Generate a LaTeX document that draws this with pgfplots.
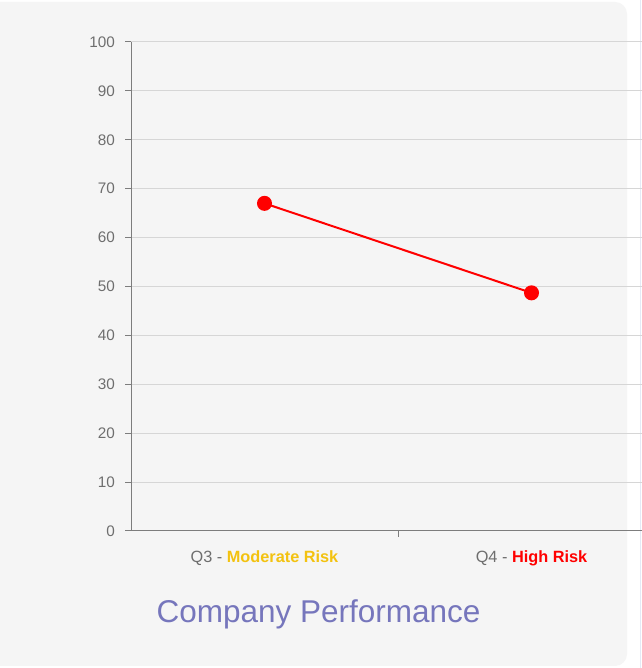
\documentclass[border=0pt]{standalone}
\usepackage{fontspec}
\setmainfont{Liberation Sans}
\usepackage{pgfplots}
\pgfplotsset{compat=1.18}
\definecolor{bg}{RGB}{245,245,245}
\definecolor{gridc}{RGB}{214,214,214}
\definecolor{axc}{RGB}{125,125,125}
\definecolor{tickc}{RGB}{110,110,110}
\definecolor{gold}{RGB}{243,194,16}
\definecolor{riskred}{RGB}{255,0,0}
\definecolor{titlec}{RGB}{118,118,188}
\definecolor{edgeblue}{RGB}{228,234,246}
\begin{document}
\begin{tikzpicture}[x=1pt,y=1pt]
\useasboundingbox (0,0) rectangle (641,668);
\fill[white] (0,0) rectangle (641,668);
\fill[bg, rounded corners=12pt] (-40,2) rectangle (627,666);
\draw[edgeblue, line width=1pt] (640,0) -- (640,668);
\begin{axis}[
  at={(131pt,137pt)}, anchor=south west,
  scale only axis, width=534pt, height=489pt,
  xmin=-0.5, xmax=1.5, ymin=0, ymax=100,
  axis lines=left,
  axis line style={-, draw=axc, line width=1pt},
  xtick={0.5}, xticklabels={},
  ytick={0,10,...,100},
  tick align=outside, major tick length=6pt,
  tick style={draw=axc, line width=1pt},
  ymajorgrids, grid style={draw=gridc, line width=1pt},
  /pgf/number format/assume math mode=true,
  yticklabel style={font=\fontsize{15.3}{18}\selectfont, text=tickc, inner sep=0pt, anchor=east, xshift=-10pt},
  clip=false,
]
\addplot[riskred, line width=2pt, mark=*, mark size=6.5pt, mark options={fill=riskred, draw=riskred}]
  coordinates {(0,67) (1,48.7)};
\node[anchor=base, yshift=-31.5pt, font=\fontsize{16.3}{19}\selectfont, inner sep=0pt]
  at (axis cs:0,0) {\textcolor{tickc}{Q3 - }\textcolor{gold}{\bfseries Moderate Risk}};
\node[anchor=base, yshift=-31.5pt, font=\fontsize{16.3}{19}\selectfont, inner sep=0pt]
  at (axis cs:1,0) {\textcolor{tickc}{Q4 - }\textcolor{riskred}{\bfseries High Risk}};
\end{axis}
\node[anchor=base, inner sep=0pt, text=titlec, font=\fontsize{31.5}{38}\selectfont] at (318.5,45) {Company Performance};
\end{tikzpicture}
\end{document}
